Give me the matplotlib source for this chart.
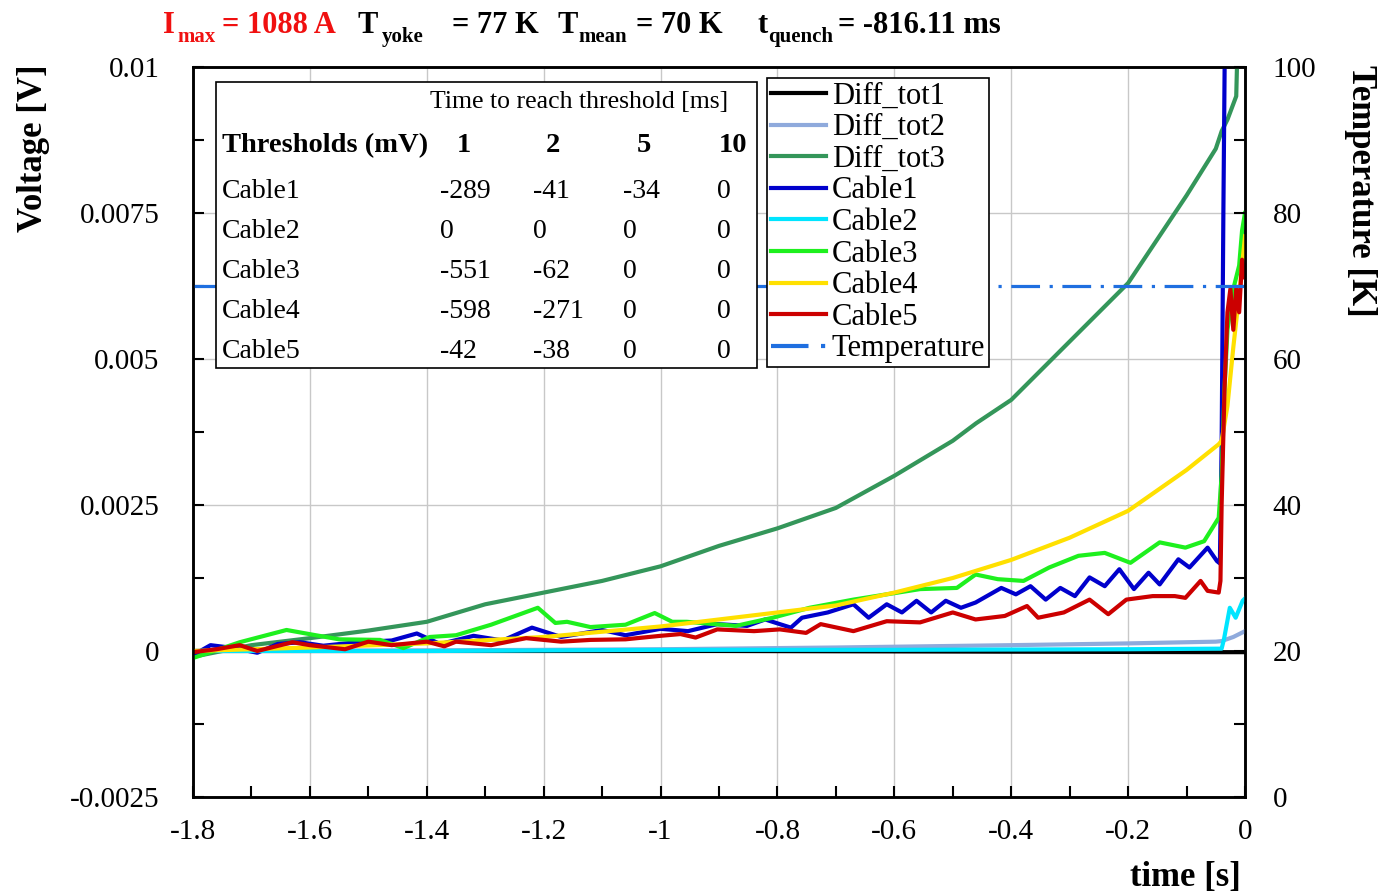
import numpy as np
import matplotlib
matplotlib.use("Agg")
import matplotlib.pyplot as plt
from matplotlib.lines import Line2D
from matplotlib.patches import Rectangle
from matplotlib.ticker import MultipleLocator, FuncFormatter

plt.rcParams['font.family'] = ['Liberation Serif', 'DejaVu Serif']

# ---------------- data ----------------
d1_t = [-1.8, -0.9, -0.04, 0.0]
d1_v = [0.0, 0.0, -0.00002, -0.00002]

d2_t = [-1.8, -1.4, -1.0, -0.7, -0.4, -0.2, -0.05, -0.04, -0.02, 0.0]
d2_v = [0.0, 0.00001, 0.00003, 0.00006, 0.0001, 0.00013, 0.00016, 0.00017, 0.00024, 0.00034]

d3_t = [-1.8, -1.7, -1.6, -1.5, -1.4, -1.3, -1.2, -1.1, -1.0, -0.9, -0.8, -0.7, -0.6,
        -0.5, -0.46, -0.4, -0.3, -0.2, -0.1, -0.05, -0.04, -0.03, -0.015, -0.01]
d3_v = [-0.0001, 0.0001, 0.00022, 0.00035, 0.0005, 0.0008, 0.001, 0.0012, 0.00145, 0.0018,
        0.0021, 0.00245, 0.003, 0.0036, 0.0039, 0.0043, 0.0053, 0.0063, 0.0078, 0.0086,
        0.0089, 0.0091, 0.0095, 0.0115]

c1_t = [-1.8, -1.77, -1.73, -1.69, -1.655, -1.617, -1.577, -1.52, -1.46, -1.417, -1.377,
        -1.32, -1.27, -1.22, -1.17, -1.1, -1.06, -1.0, -0.953, -0.903, -0.852, -0.821,
        -0.777, -0.758, -0.714, -0.67, -0.644, -0.613, -0.587, -0.562, -0.537, -0.512,
        -0.486, -0.461, -0.417, -0.392, -0.367, -0.341, -0.316, -0.291, -0.266, -0.24,
        -0.215, -0.19, -0.165, -0.146, -0.114, -0.095, -0.064, -0.048, -0.043, -0.04,
        -0.037, -0.034]
c1_v = [-0.00007, 0.0001, 0.00005, -0.00003, 0.00012, 0.00015, 0.00009, 0.00015, 0.00018,
        0.0003, 0.00012, 0.00026, 0.00018, 0.0004, 0.00024, 0.00036, 0.00027, 0.00038,
        0.00034, 0.00046, 0.00043, 0.00054, 0.0004, 0.00057, 0.00066, 0.0008, 0.00057,
        0.0008, 0.00066, 0.00086, 0.00066, 0.00086, 0.00074, 0.00083, 0.00108, 0.00097,
        0.00111, 0.00088, 0.00108, 0.00094, 0.00126, 0.00111, 0.0014, 0.00106, 0.00134,
        0.00114, 0.00157, 0.00143, 0.00177, 0.00154, 0.0015, 0.0035, 0.0075, 0.011]

c2_t = [-1.8, -1.4, -1.0, -0.6, -0.2, -0.04, -0.036, -0.026, -0.016, -0.004, 0.0]
c2_v = [0.0, 0.0, 0.00002, 0.00002, 0.00003, 0.00004, 0.0002, 0.00074, 0.00057, 0.00086, 0.0009]

c3_t = [-1.8, -1.72, -1.64, -1.59, -1.55, -1.48, -1.44, -1.395, -1.35, -1.29, -1.21, -1.18,
        -1.16, -1.12, -1.06, -1.01, -0.98, -0.955, -0.871, -0.808, -0.745, -0.67, -0.613,
        -0.556, -0.493, -0.461, -0.423, -0.379, -0.335, -0.285, -0.24, -0.196, -0.146,
        -0.102, -0.07, -0.045, -0.04, -0.035, -0.03, -0.02, -0.01, -0.005, 0.0]
c3_v = [-0.00012, 0.00015, 0.00036, 0.00027, 0.0002, 0.00019, 0.00005, 0.00024, 0.00027,
        0.00045, 0.00074, 0.00048, 0.0005, 0.00041, 0.00045, 0.00065, 0.0005, 0.0005,
        0.00043, 0.00057, 0.00074, 0.00088, 0.00097, 0.00106, 0.00108, 0.00131, 0.00123,
        0.0012, 0.00143, 0.00163, 0.00168, 0.00151, 0.00186, 0.00177, 0.00188, 0.00228,
        0.003, 0.0045, 0.0055, 0.0062, 0.0066, 0.0072, 0.0075]

c4_t = [-1.8, -1.6, -1.4, -1.2, -1.0, -0.8, -0.7, -0.6, -0.5, -0.4, -0.3, -0.2, -0.1,
        -0.045, -0.04, -0.03, -0.02, -0.01, 0.0]
c4_v = [0.0, 0.00006, 0.00013, 0.00024, 0.00042, 0.00066, 0.00078, 0.001, 0.00125, 0.00156,
        0.00194, 0.0024, 0.0031, 0.00354, 0.0036, 0.0042, 0.0052, 0.0061, 0.0071]

c5_t = [-1.8, -1.76, -1.72, -1.69, -1.63, -1.6, -1.54, -1.5, -1.46, -1.4, -1.37, -1.35,
        -1.29, -1.23, -1.17, -1.12, -1.06, -1.0, -0.966, -0.94, -0.903, -0.84, -0.796,
        -0.751, -0.726, -0.67, -0.613, -0.556, -0.5, -0.461, -0.411, -0.373, -0.354, -0.31,
        -0.266, -0.234, -0.203, -0.158, -0.12, -0.102, -0.076, -0.064, -0.045, -0.042,
        -0.04, -0.035, -0.03, -0.025, -0.02, -0.015, -0.01, -0.005, 0.0]
c5_v = [-0.00002, 0.00003, 0.0001, 0.0, 0.00015, 0.0001, 0.00003, 0.00016, 0.0001, 0.00016,
        0.00008, 0.00016, 0.0001, 0.00022, 0.00016, 0.00019, 0.0002, 0.00026, 0.00029,
        0.00023, 0.00037, 0.00034, 0.00037, 0.00031, 0.00046, 0.00034, 0.00051, 0.00049,
        0.00066, 0.00054, 0.0006, 0.00077, 0.00057, 0.00066, 0.00088, 0.00063, 0.00088,
        0.00094, 0.00094, 0.00091, 0.0012, 0.00103, 0.001, 0.0012, 0.0025, 0.0045, 0.0058,
        0.0062, 0.0055, 0.0062, 0.0058, 0.0067, 0.0064]

temp_t = [-1.8, 0.0]
temp_v = [70, 70]

series_names = ["Diff_tot1", "Diff_tot2", "Diff_tot3", "Cable1", "Cable2", "Cable3", "Cable4", "Cable5"]
series_colors = ["#000000", "#8FAADC", "#34965A", "#0000CC", "#00E5FF", "#1EF01E", "#FFE000", "#CC0000"]

thresholds = ["1", "2", "5", "10"]
cable_names = ["Cable1", "Cable2", "Cable3", "Cable4", "Cable5"]
times_ms = [["-289", "-41", "-34", "0"],
            ["0", "0", "0", "0"],
            ["-551", "-62", "0", "0"],
            ["-598", "-271", "0", "0"],
            ["-42", "-38", "0", "0"]]

# ---------------- figure ----------------
W, H = 1383, 896
fig = plt.figure(figsize=(W / 100, H / 100), dpi=100)


def fx(x):
    return x / W


def fy(y):
    return 1 - y / H


ax = fig.add_axes([fx(193), fy(797), fx(1245) - fx(193), fy(67) - fy(797)])
ax2 = ax.twinx()

series = [(d1_t, d1_v), (d2_t, d2_v), (d3_t, d3_v), (c1_t, c1_v),
          (c2_t, c2_v), (c3_t, c3_v), (c4_t, c4_v), (c5_t, c5_v)]
handles = []
for (t, v), name, col in zip(series, series_names, series_colors):
    ln, = ax.plot(t, v, color=col, lw=3.0, label=name, solid_joinstyle='round', zorder=3)
    handles.append(ln)

tl, = ax2.plot(temp_t, temp_v, color="#1F6FE0", lw=2.3, linestyle=(0, (9, 3, 1, 3)),
               label="Temperature")
handles.append(tl)

ax.set_xlim(-1.8, 0)
ax.set_ylim(-0.0025, 0.01)
ax2.set_ylim(0, 100)

ax.xaxis.set_major_locator(MultipleLocator(0.2))
ax.xaxis.set_minor_locator(MultipleLocator(0.1))
ax.yaxis.set_major_locator(MultipleLocator(0.0025))
ax.yaxis.set_minor_locator(MultipleLocator(0.00125))
ax2.yaxis.set_major_locator(MultipleLocator(20))
ax2.yaxis.set_minor_locator(MultipleLocator(10))

fmt = FuncFormatter(lambda v, p: "0" if abs(v) < 1e-12 else f"{v:g}")
ax.xaxis.set_major_formatter(fmt)
ax.yaxis.set_major_formatter(fmt)
ax2.yaxis.set_major_formatter(FuncFormatter(lambda v, p: f"{v:g}"))

ax.grid(True, which='major', color="#C8C8C8", lw=1.0, zorder=0)
ax.set_axisbelow(True)

ax.tick_params(axis='x', which='both', direction='in', length=8, width=1.5,
               labelsize=21, pad=16, top=False)
ax.tick_params(axis='y', which='both', direction='in', length=8, width=1.5,
               labelsize=21, pad=24, right=False)
ax2.tick_params(axis='y', which='both', direction='in', length=8, width=1.5,
                labelsize=21, pad=20)
for a in (ax, ax2):
    for s in a.spines.values():
        s.set_linewidth(1.8)

# axis labels
fig.text(fx(33), fy(148), "Voltage [V]", rotation=90, fontsize=25, fontweight='bold',
         ha='center', va='center')
fig.text(fx(1360), fy(191), "Temperature [K]", rotation=270, fontsize=25, fontweight='bold',
         ha='center', va='center')
fig.text(fx(1185), fy(877), "time [s]", fontsize=25, fontweight='bold', ha='center', va='center')

# title pieces
big, small = 22, 15
red = "#F01010"
pieces = [
    (163, "I", big, red, 33), (177, "max", small, red, 42), (222, "= 1088 A", big, red, 33),
    (357, "T", big, 'black', 33), (382, "yoke", small, 'black', 42), (452, "= 77 K", big, 'black', 33),
    (557, "T", big, 'black', 33), (578, "mean", small, 'black', 42), (636, "= 70 K", big, 'black', 33),
    (757, "t", big, 'black', 33), (768, "quench", small, 'black', 42), (838, "= -816.11 ms", big, 'black', 33),
]
for x, s, fs, c, yb in pieces:
    fig.text(fx(x), fy(yb), s, fontsize=fs, color=c, fontweight='bold', ha='left', va='baseline')

# table box
fig.patches.append(Rectangle((fx(216), fy(368)), fx(757) - fx(216), fy(82) - fy(368),
                             transform=fig.transFigure, facecolor='white', edgecolor='black',
                             lw=1.2, zorder=4))
fig.text(fx(430), fy(102), "Time to reach threshold [ms]", fontsize=18.5, ha='left', va='center',
         zorder=5)
fig.text(fx(222), fy(146), "Thresholds (mV)", fontsize=20.5, fontweight='bold', ha='left',
         va='center', zorder=5)
col_centers = [464, 553, 644, 733]
col_lefts = [440, 533, 623, 717]
for xc, th in zip(col_centers, thresholds):
    fig.text(fx(xc), fy(146), th, fontsize=20.5, fontweight='bold', ha='center', va='center', zorder=5)
row_y = [191, 231, 271, 311, 351]
for yy, name, vals in zip(row_y, cable_names, times_ms):
    fig.text(fx(222), fy(yy), name, fontsize=20, ha='left', va='center', zorder=5)
    for xl, v in zip(col_lefts, vals):
        fig.text(fx(xl), fy(yy), v, fontsize=20, ha='left', va='center', zorder=5)

# legend
leg = fig.legend(handles=handles, loc='upper left', bbox_to_anchor=(fx(767), fy(78)),
                 bbox_transform=fig.transFigure, fontsize=22, labelspacing=0.085,
                 handlelength=1.8, handletextpad=0.2, borderpad=0.12, borderaxespad=0,
                 fancybox=False, framealpha=1, edgecolor='black')
leg.get_frame().set_linewidth(1.2)
for lh in leg.get_lines():
    lh.set_linewidth(3.0)

fig.savefig("out.png", dpi=100)
